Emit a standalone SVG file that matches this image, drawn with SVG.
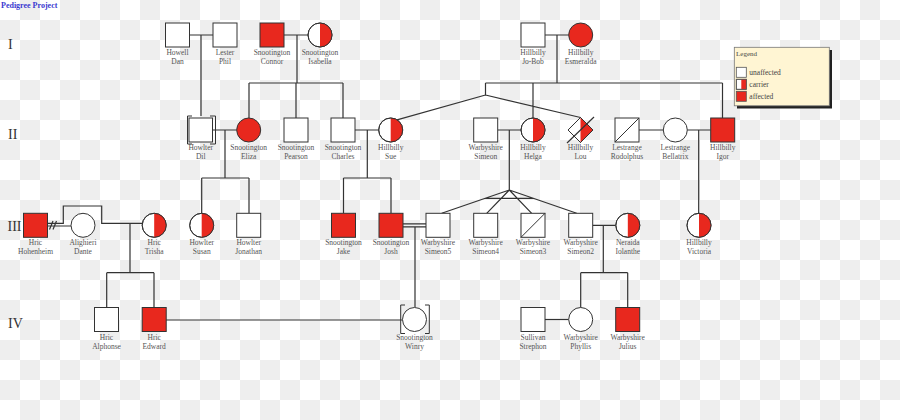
<svg xmlns="http://www.w3.org/2000/svg" width="900" height="420" viewBox="0 0 900 420">
<defs>
<pattern id="chk" width="40" height="40" patternUnits="userSpaceOnUse">
<rect width="40" height="40" fill="#ffffff"/>
<rect x="20" y="0" width="20" height="20" fill="#eeeeee"/>
<rect x="0" y="20" width="20" height="20" fill="#eeeeee"/>
</pattern>
<style>
.ln{stroke:#333;stroke-width:1.2;fill:none}
.nd{stroke:#333;stroke-width:1;fill:#fff}
.ol{stroke:#333;stroke-width:1;fill:none}
.red{fill:#e8281e;stroke:none}
.aff{stroke:#333;stroke-width:1;fill:#e8281e}
.lbl{font-family:"Liberation Serif","DejaVu Serif",serif;font-size:7.5px;fill:#555;text-anchor:middle}
.gen{font-family:"Liberation Serif","DejaVu Serif",serif;font-size:14px;fill:#333}
.leg{font-family:"Liberation Serif","DejaVu Serif",serif;font-size:7.5px;fill:#444}
</style>
</defs>
<rect width="900" height="420" fill="url(#chk)"/>
<text x="1" y="7.5" style="font-family:'Liberation Serif',serif;font-size:8px;font-weight:bold;fill:#3a3ad0">Pedigree Project</text>
<text class="gen" x="8" y="49">I</text>
<text class="gen" x="8" y="139">II</text>
<text class="gen" x="7.5" y="230.5">III</text>
<text class="gen" x="8" y="328">IV</text>

<g id="connectors">
<path class="ln" d="M189.5 35H213M201 35V116"/>
<path class="ln" d="M284 35H308M297 35V83M249 83H343M249 83V118M296 83V118M343 83V118"/>
<path class="ln" d="M545 35H568.7M557 35V83M485.5 83H722.5M485.5 83V95M485.5 95L397 119.8M485.5 95L580.5 117.5M533 83V118M722.5 83V118"/>
<path class="ln" d="M212.7 130H236.7M225 130V178M201.7 178H249M201.7 178V213.3M249 178V213.3"/>
<path class="ln" d="M355 130H378.7M367.3 130V178M343.5 178H391M343.5 178V213.3M391 178V213.3"/>
<path class="ln" d="M497.7 130H521M509.3 130V190M509.3 190L441.7 213.3M509.3 190L486.7 213.3M509.3 190L531.7 213.3M509.3 190L576.7 213.3M485.2 198.3H533.4"/>
<path class="ln" d="M639 130H663.3M687.3 130H710.7M698.7 130V213.3"/>
<path class="ln" d="M47.7 223.3H63.3V206H101.7V223.3H142.3M130 223.3V272.7M106.7 272.7H154M106.7 272.7V307.3M154 272.7V307.3"/>
<path class="ln" d="M47.7 226H71M49.5 229.5L53 221M53 229.5L56.5 221"/>
<path class="ln" d="M402.7 223.8H426M402.7 226.8H426M415 226.8V307"/>
<path class="ln" d="M166 320H402.3"/>
<path class="ln" d="M592.7 225.3H615.7M603.3 225.3V272.7M580.7 272.7H627.7M580.7 272.7V307.3M627.7 272.7V307.3"/>
<path class="ln" d="M545 319.5H568.7"/>
</g>

<!-- Generation I -->
<g id="dan"><rect class="nd" x="165.5" y="23" width="24" height="24"/><text class="lbl" x="177.5" y="55">Howell</text><text class="lbl" x="177.5" y="64">Dan</text></g>
<g id="phil"><rect class="nd" x="213" y="23" width="24" height="24"/><text class="lbl" x="225" y="55">Lester</text><text class="lbl" x="225" y="64">Phil</text></g>
<g id="connor"><rect class="aff" x="260" y="23" width="24" height="24"/><text class="lbl" x="272" y="55">Snootington</text><text class="lbl" x="272" y="64">Connor</text></g>
<g id="isabella"><circle class="nd" cx="320" cy="35" r="12"/><path class="red" d="M320 23A12 12 0 0 1 320 47Z"/><circle class="ol" cx="320" cy="35" r="12"/><text class="lbl" x="320" y="55">Snootington</text><text class="lbl" x="320" y="64">Isabella</text></g>
<g id="jobob"><rect class="nd" x="521" y="23" width="24" height="24"/><text class="lbl" x="533" y="55">Hillbilly</text><text class="lbl" x="533" y="64">Jo-Bob</text></g>
<g id="esmeralda"><circle class="aff" cx="580.7" cy="35" r="12"/><text class="lbl" x="580.7" y="55">Hillbilly</text><text class="lbl" x="580.7" y="64">Esmeralda</text></g>

<!-- Generation II -->
<g id="dil"><rect class="nd" x="189" y="118" width="23.5" height="24"/><path class="ol" d="M192 116H187.5V144H192M210 116H215.5V144H210"/><text class="lbl" x="200.7" y="150">Howlter</text><text class="lbl" x="200.7" y="159">Dil</text></g>
<g id="eliza"><circle class="aff" cx="248.7" cy="130" r="12"/><text class="lbl" x="248.7" y="150">Snootington</text><text class="lbl" x="248.7" y="159">Eliza</text></g>
<g id="pearson"><rect class="nd" x="284" y="118" width="24" height="24"/><text class="lbl" x="296" y="150">Snootington</text><text class="lbl" x="296" y="159">Pearson</text></g>
<g id="charles"><rect class="nd" x="331" y="118" width="24" height="24"/><text class="lbl" x="343" y="150">Snootington</text><text class="lbl" x="343" y="159">Charles</text></g>
<g id="sue"><circle class="nd" cx="390.7" cy="130" r="12"/><path class="red" d="M390.7 118A12 12 0 0 1 390.7 142Z"/><circle class="ol" cx="390.7" cy="130" r="12"/><text class="lbl" x="390.7" y="150">Hillbilly</text><text class="lbl" x="390.7" y="159">Sue</text></g>
<g id="simeon"><rect class="nd" x="473.7" y="118" width="24" height="24"/><text class="lbl" x="485.7" y="150">Warbyshire</text><text class="lbl" x="485.7" y="159">Simeon</text></g>
<g id="helga"><circle class="nd" cx="533" cy="130" r="12"/><path class="red" d="M533 118A12 12 0 0 1 533 142Z"/><circle class="ol" cx="533" cy="130" r="12"/><text class="lbl" x="533" y="150">Hillbilly</text><text class="lbl" x="533" y="159">Helga</text></g>
<g id="lou"><polygon class="nd" points="580.5,117.5 593,130 580.5,142.5 568,130"/><polygon class="red" points="580.5,117.5 593,130 580.5,142.5"/><polygon class="ol" points="580.5,117.5 593,130 580.5,142.5 568,130"/><path class="ln" d="M567 143L594 117"/><text class="lbl" x="580.5" y="150">Hillbilly</text><text class="lbl" x="580.5" y="159">Lou</text></g>
<g id="rodolphus"><rect class="nd" x="615" y="118" width="24" height="24"/><path class="ol" d="M615 142L639 118"/><text class="lbl" x="627" y="150">Lestrange</text><text class="lbl" x="627" y="159">Rodolphus</text></g>
<g id="bellatrix"><circle class="nd" cx="675.3" cy="130" r="12"/><text class="lbl" x="675.3" y="150">Lestrange</text><text class="lbl" x="675.3" y="159">Bellatrix</text></g>
<g id="igor"><rect class="aff" x="710.7" y="118" width="24" height="24"/><text class="lbl" x="722.7" y="150">Hillbilly</text><text class="lbl" x="722.7" y="159">Igor</text></g>

<!-- Generation III -->
<g id="hohenheim"><rect class="aff" x="23.5" y="213.3" width="24" height="24"/><text class="lbl" x="35.5" y="245">Hric</text><text class="lbl" x="35.5" y="254">Hohenheim</text></g>
<g id="dante"><circle class="nd" cx="83" cy="225.3" r="12"/><text class="lbl" x="83" y="245">Alighieri</text><text class="lbl" x="83" y="254">Dante</text></g>
<g id="trisha"><circle class="nd" cx="154.2" cy="225.3" r="12"/><path class="red" d="M154.2 213.3A12 12 0 0 1 154.2 237.3Z"/><circle class="ol" cx="154.2" cy="225.3" r="12"/><text class="lbl" x="154.2" y="245">Hric</text><text class="lbl" x="154.2" y="254">Trisha</text></g>
<g id="susan"><circle class="nd" cx="201.7" cy="225.3" r="12"/><path class="red" d="M201.7 213.3A12 12 0 0 1 201.7 237.3Z"/><circle class="ol" cx="201.7" cy="225.3" r="12"/><text class="lbl" x="201.7" y="245">Howlter</text><text class="lbl" x="201.7" y="254">Susan</text></g>
<g id="jonathan"><rect class="nd" x="236.7" y="213.3" width="24" height="24"/><text class="lbl" x="248.7" y="245">Howlter</text><text class="lbl" x="248.7" y="254">Jonathan</text></g>
<g id="jake"><rect class="aff" x="331.5" y="213.3" width="24" height="24"/><text class="lbl" x="343.5" y="245">Snootington</text><text class="lbl" x="343.5" y="254">Jake</text></g>
<g id="josh"><rect class="aff" x="379" y="213.3" width="24" height="24"/><text class="lbl" x="391" y="245">Snootington</text><text class="lbl" x="391" y="254">Josh</text></g>
<g id="simeon5"><rect class="nd" x="426" y="213.3" width="24" height="24"/><text class="lbl" x="438" y="245">Warbyshire</text><text class="lbl" x="438" y="254">Simeon5</text></g>
<g id="simeon4"><rect class="nd" x="473.7" y="213.3" width="24" height="24"/><text class="lbl" x="485.7" y="245">Warbyshire</text><text class="lbl" x="485.7" y="254">Simeon4</text></g>
<g id="simeon3"><rect class="nd" x="521" y="213.3" width="24" height="24"/><path class="ol" d="M521 237.3L545 213.3"/><text class="lbl" x="533" y="245">Warbyshire</text><text class="lbl" x="533" y="254">Simeon3</text></g>
<g id="simeon2"><rect class="nd" x="568.7" y="213.3" width="24" height="24"/><text class="lbl" x="580.7" y="245">Warbyshire</text><text class="lbl" x="580.7" y="254">Simeon2</text></g>
<g id="iolanthe"><circle class="nd" cx="627.8" cy="225.3" r="12"/><path class="red" d="M627.8 213.3A12 12 0 0 1 627.8 237.3Z"/><circle class="ol" cx="627.8" cy="225.3" r="12"/><text class="lbl" x="627.8" y="245">Neraida</text><text class="lbl" x="627.8" y="254">Iolanthe</text></g>
<g id="victoria"><circle class="nd" cx="699" cy="225.3" r="12"/><path class="red" d="M699 213.3A12 12 0 0 1 699 237.3Z"/><circle class="ol" cx="699" cy="225.3" r="12"/><text class="lbl" x="699" y="245">Hillbilly</text><text class="lbl" x="699" y="254">Victoria</text></g>

<!-- Generation IV -->
<g id="alphonse"><rect class="nd" x="94.5" y="307.5" width="24" height="24"/><text class="lbl" x="106.5" y="340">Hric</text><text class="lbl" x="106.5" y="349">Alphonse</text></g>
<g id="edward"><rect class="aff" x="142.2" y="307.5" width="24" height="24"/><text class="lbl" x="154.2" y="340">Hric</text><text class="lbl" x="154.2" y="349">Edward</text></g>
<g id="winry"><circle class="nd" cx="414.5" cy="319.5" r="12"/><path class="ol" d="M405 305H400.7V333.5H405M425 305H429.3V333.5H425"/><text class="lbl" x="414.5" y="340">Snootington</text><text class="lbl" x="414.5" y="349">Winry</text></g>
<g id="strephon"><rect class="nd" x="521" y="307.5" width="24" height="24"/><text class="lbl" x="533" y="340">Sullivan</text><text class="lbl" x="533" y="349">Strephon</text></g>
<g id="phyllis"><circle class="nd" cx="580.7" cy="319.5" r="12"/><text class="lbl" x="580.7" y="340">Warbyshire</text><text class="lbl" x="580.7" y="349">Phyllis</text></g>
<g id="julius"><rect class="aff" x="615.7" y="307.5" width="24" height="24"/><text class="lbl" x="627.7" y="340">Warbyshire</text><text class="lbl" x="627.7" y="349">Julius</text></g>

<!-- Legend -->
<g id="legend">
<rect x="737" y="50" width="95" height="58.5" fill="#222"/>
<rect x="734.3" y="47.3" width="95" height="58.5" fill="#fff5d3" stroke="#777" stroke-width="0.8"/>
<text class="leg" x="736" y="55.5" style="font-size:7px">Legend</text>
<rect x="736.3" y="67.3" width="10" height="10" fill="#fff" stroke="#555" stroke-width="0.8"/>
<text class="leg" x="749.3" y="75">unaffected</text>
<rect x="736.3" y="79.3" width="10" height="10" fill="#fff" stroke="#555" stroke-width="0.8"/>
<rect x="741.3" y="79.3" width="5" height="10" fill="#e8281e"/>
<rect x="736.3" y="79.3" width="10" height="10" fill="none" stroke="#555" stroke-width="0.8"/>
<text class="leg" x="749.3" y="87">carrier</text>
<rect x="736.3" y="91.3" width="10" height="10" fill="#e8281e" stroke="#555" stroke-width="0.8"/>
<text class="leg" x="749.3" y="99">affected</text>
</g>
</svg>
